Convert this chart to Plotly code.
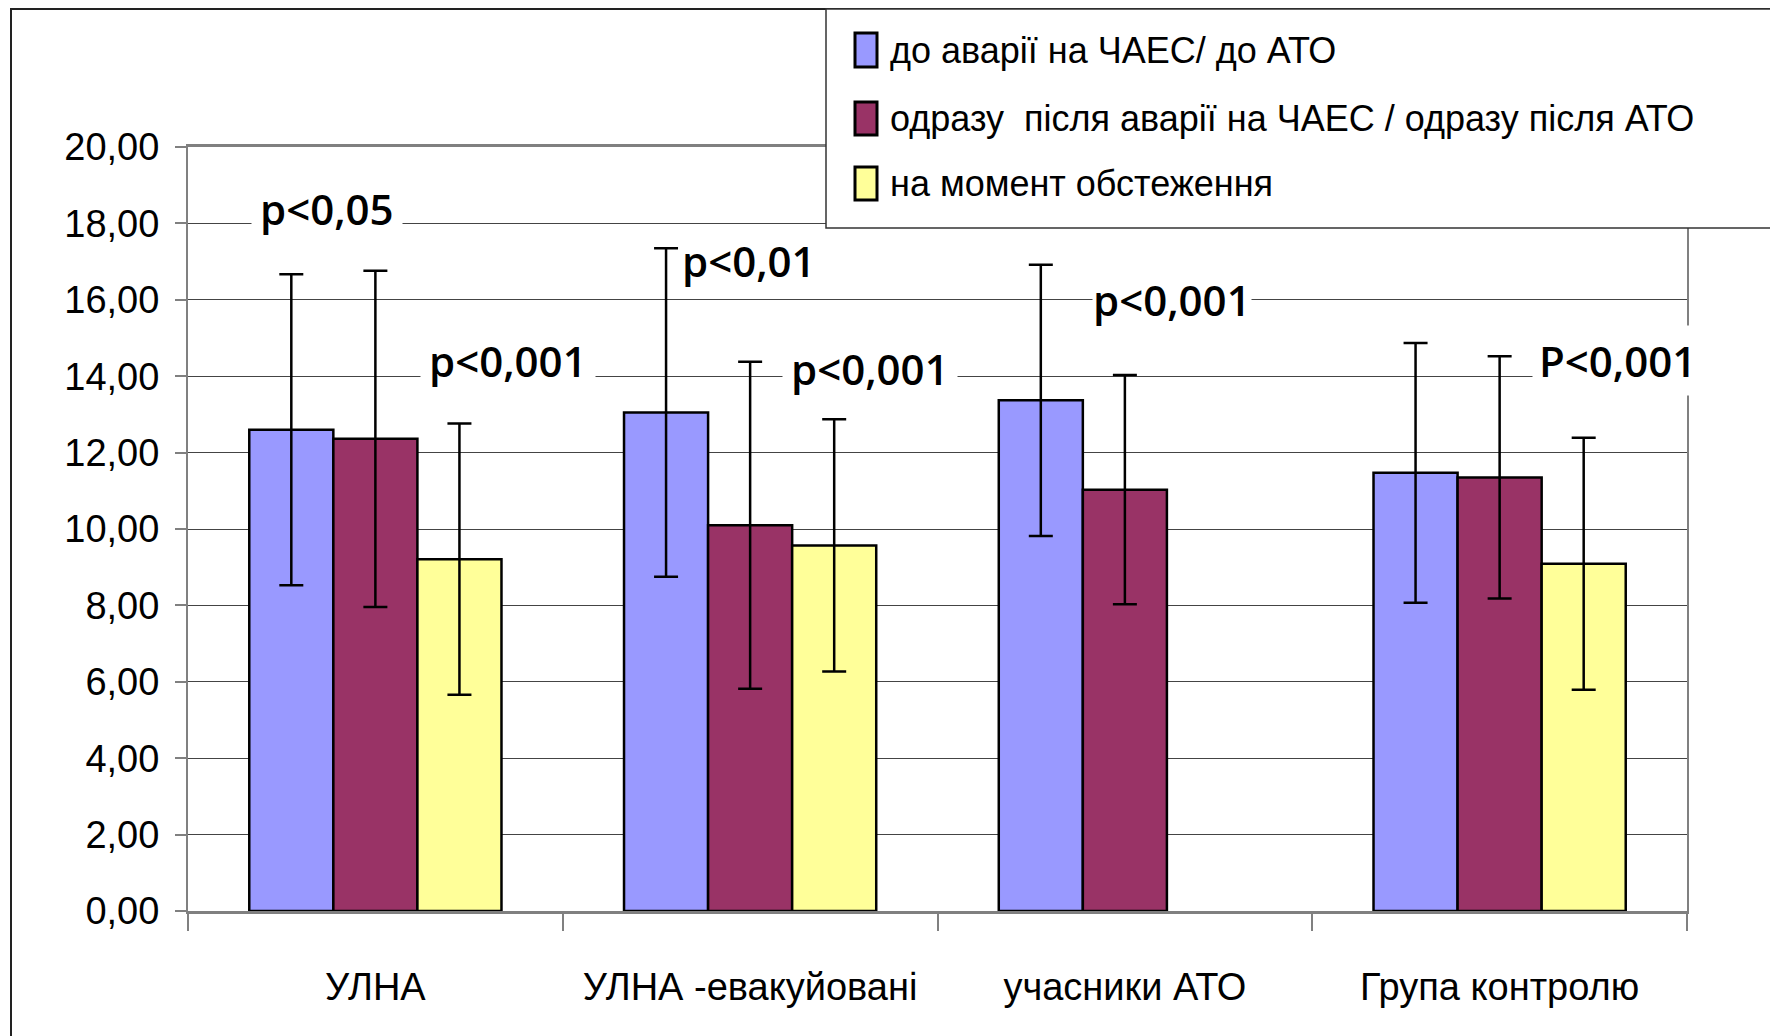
import plotly.graph_objects as go

categories = ["УЛНА", "УЛНА -евакуйовані", "учасники АТО", "Група контролю"]
series_names = ["до аварії на ЧАЕС/ до АТО",
                "одразу  після аварії на ЧАЕС / одразу після АТО",
                "на момент обстеження"]
before_vals = [12.60, 13.05, 13.37, 11.47]
before_err = [4.07, 4.30, 3.55, 3.40]
after_vals = [12.36, 10.10, 11.03, 11.35]
after_err = [4.40, 4.28, 3.00, 3.17]
now_vals = [9.21, 9.57, None, 9.09]
now_err = [3.55, 3.30, None, 3.30]
colors = ["#9999FF", "#993366", "#FFFF99"]

p_labels = ["p<0,05", "p<0,001", "p<0,01", "p<0,001", "p<0,001", "P<0,001"]

TXT = "Liberation Sans, Arial, sans-serif"

fig = go.Figure()
for name, vals, errs, col in zip(series_names,
                                 [before_vals, after_vals, now_vals],
                                 [before_err, after_err, now_err], colors):
    fig.add_trace(go.Bar(
        x=categories, y=vals, name=name,
        marker=dict(color=col, line=dict(color="black", width=2.5)),
        error_y=dict(type="data", array=errs, visible=True, color="black",
                     thickness=2.5, width=12),
    ))

OFF = 8  # default page margin of the html body
W0, W1 = 188 - OFF, 1687 - OFF
H0, H1 = 147 - OFF, 911 - OFF
def px(x):
    return (x - OFF - W0) / (W1 - W0)
def py(y):
    return (H1 - (y - OFF)) / (H1 - H0)

shapes = []
# outer chart border
shapes.append(dict(type="rect", xref="paper", yref="paper",
                   x0=px(11), x1=px(1850), y0=py(1100), y1=py(9),
                   line=dict(color="#222", width=2), fillcolor="rgba(0,0,0,0)",
                   layer="above"))
# legend box
shapes.append(dict(type="rect", xref="paper", yref="paper",
                   x0=px(826), x1=px(1850), y0=py(228), y1=py(9),
                   line=dict(color="#333", width=1.5), fillcolor="white",
                   layer="above"))
sw_y = [(33, 67), (102, 135), (167, 200)]
for (a, b), col in zip(sw_y, colors):
    shapes.append(dict(type="rect", xref="paper", yref="paper",
                       x0=px(855), x1=px(877), y0=py(b), y1=py(a),
                       line=dict(color="black", width=3), fillcolor=col,
                       layer="above"))

annotations = []
for (yc), name in zip([50, 118, 183], series_names):
    annotations.append(dict(xref="paper", yref="paper", x=px(888), y=py(yc),
                            xanchor="left", yanchor="middle", showarrow=False,
                            text=name, font=dict(family=TXT, size=36, color="black")))

# p-value labels: (paper-x center, y value, pad)
p_pos = [(px(326.5), 18.38, 8), (px(507.5), 14.41, 8), (px(749), 17.02, 3),
         (px(870.4), 14.20, 8), (px(1171.5), 16.02, 0), (px(1617.5), 14.42, 6)]
for (xp, yv, pad), txt in zip(p_pos, p_labels):
    annotations.append(dict(xref="paper", yref="y", x=xp, y=yv,
                            xanchor="center", yanchor="middle", showarrow=False,
                            text=txt, bgcolor="white", borderpad=pad,
                            font=dict(family="Open Sans", size=42, color="black",
                                      weight=600)))

fig.update_layout(
    width=1778, height=1036,
    margin=dict(l=W0, r=1778 - W1, t=H0, b=1036 - H1),
    paper_bgcolor="white", plot_bgcolor="white",
    barmode="group", bargap=0.327, bargroupgap=0,
    showlegend=False,
    separators=",.",
    shapes=shapes, annotations=annotations,
    font=dict(family=TXT, color="black"),
)
fig.update_xaxes(
    type="category", range=[-0.5, 3.5], automargin=False, tickangle=0,
    showline=True, linecolor="#808080", linewidth=3, mirror=True,
    ticks="outside", ticklen=17, tickcolor="#808080", tickwidth=1.5,
    tickson="boundaries", showgrid=False,
    tickfont=dict(family=TXT, size=38, color="black"),
    ticklabelstandoff=40,
)
fig.update_yaxes(
    range=[0, 20], dtick=2, tickformat=".2f", automargin=False,
    showline=True, linecolor="#808080", linewidth=2, mirror=True,
    ticks="outside", ticklen=11, tickcolor="#808080", tickwidth=1.5,
    showgrid=True, gridcolor="#444", gridwidth=1.2,
    tickfont=dict(family=TXT, size=38, color="black"),
    ticklabelstandoff=8, zeroline=False,
)

fig.write_html("out.html")
